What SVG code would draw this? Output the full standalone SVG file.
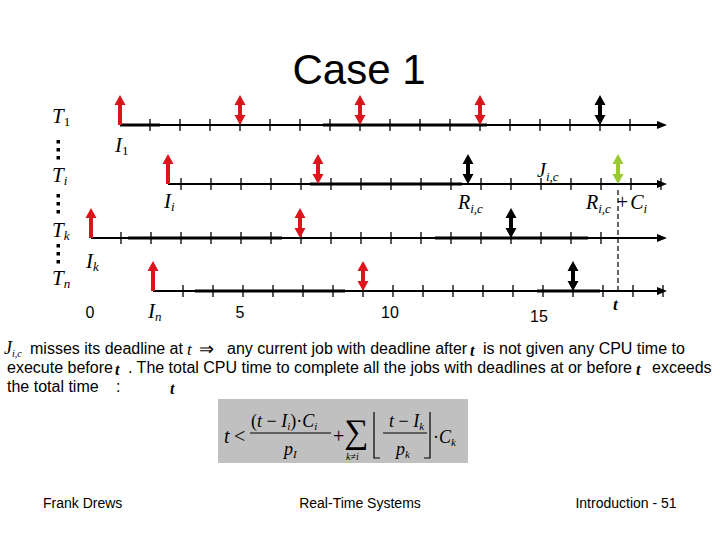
<svg xmlns="http://www.w3.org/2000/svg" width="720" height="540" viewBox="0 0 720 540">
<style>
.sans{font-family:"Liberation Sans",Arial,sans-serif;fill:#000}
.ser{font-family:"Liberation Serif","Times New Roman",serif;fill:#000}
.it{font-style:italic}
.tl{stroke:#000;stroke-width:2;fill:none}
.thk{stroke:#000;stroke-width:3;fill:none}
.tick{stroke:#000;stroke-width:1.3}
.red{fill:#dc141c}
.blk{fill:#000}
.grn{fill:#9ac832}
</style>
<defs>
<path id="up" d="M-2,0 V-20 H-5.5 L0,-30 L5.5,-20 H2 V0 Z"/>
<path id="dbl" d="M0,-30 L5.5,-20 H2 V-10 H5.5 L0,0 L-5.5,-10 H-2 V-20 H-5.5 Z"/>
<path id="end" d="M-10,-4 L0,0 L-10,4 Z"/>
<g id="ticks">
<path class="tick" d="M0,-6V6M30,-6V6M60,-6V6M90,-6V6M120,-6V6M150,-6V6M180,-6V6M210,-6V6M240,-6V6M270,-6V6M300,-6V6M330,-6V6M360,-6V6M390,-6V6M420,-6V6M450,-6V6M480,-6V6"/>
</g>
</defs>

<rect width="720" height="540" fill="#fff"/>

<text class="sans" x="359" y="84" font-size="42" text-anchor="middle">Case 1</text>

<!-- task labels -->
<g id="labels">
<text class="ser it" x="52" y="123" font-size="21">T<tspan class="ser" font-style="normal" font-size="13" dy="3">1</tspan></text>
<text class="ser it" x="52" y="182" font-size="21">T<tspan font-size="13" dy="3">i</tspan></text>
<text class="ser it" x="52" y="237" font-size="21">T<tspan font-size="13" dy="3">k</tspan></text>
<text class="ser it" x="52" y="285" font-size="21">T<tspan font-size="13" dy="3">n</tspan></text>
<g class="blk">
<rect x="56.5" y="140" width="3.5" height="3.5"/><rect x="56.5" y="148" width="3.5" height="3.5"/><rect x="56.5" y="156" width="3.5" height="3.5"/>
<rect x="56.5" y="194" width="3.5" height="3.5"/><rect x="56.5" y="202" width="3.5" height="3.5"/><rect x="56.5" y="210" width="3.5" height="3.5"/>
<rect x="56.5" y="244" width="3.5" height="3.5"/><rect x="56.5" y="252" width="3.5" height="3.5"/><rect x="56.5" y="260" width="3.5" height="3.5"/>
</g>
<text class="ser it" x="115" y="152" font-size="21">I<tspan font-style="normal" font-size="13" dy="3">1</tspan></text>
<text class="ser it" x="164" y="208" font-size="21">I<tspan font-size="13" dy="3">i</tspan></text>
<text class="ser it" x="86" y="268" font-size="21">I<tspan font-size="13" dy="3">k</tspan></text>
<text class="ser it" x="148" y="318" font-size="21">I<tspan font-size="13" dy="3">n</tspan></text>
<text class="sans" x="90" y="318" font-size="16" text-anchor="middle">0</text>
<text class="sans" x="240" y="318" font-size="16" text-anchor="middle">5</text>
<text class="sans" x="390" y="318" font-size="16" text-anchor="middle">10</text>
<text class="sans" x="539" y="322" font-size="16" text-anchor="middle">15</text>
<text class="ser it" x="537" y="177" font-size="20">J<tspan font-size="13" dy="4">i,c</tspan></text>
<text class="ser it" x="458" y="209" font-size="20">R<tspan font-size="13" dy="4">i,c</tspan></text>
<text class="ser it" x="586" y="209" font-size="20">R<tspan font-size="13" dy="4">i,c</tspan><tspan font-style="normal" font-size="20" dy="-4" dx="6">+</tspan><tspan dx="2">C</tspan><tspan font-size="13" dy="4">i</tspan></text>
<text class="ser it" x="613" y="310" font-size="17" font-weight="bold">t</text>
</g>

<!-- timeline T1 -->
<g id="T1">
<path class="tl" d="M120,125H660"/>
<path class="thk" d="M120,125H160M323,125H487"/>
<use href="#ticks" x="150" y="125"/>
<use href="#end" x="667" y="125"/>
<use href="#up" class="red" x="120" y="125"/>
<use href="#dbl" class="red" x="240" y="125"/>
<use href="#dbl" class="red" x="360" y="125"/>
<use href="#dbl" class="red" x="480" y="125"/>
<use href="#dbl" class="blk" x="600" y="125"/>
</g>

<!-- timeline Ti -->
<g id="Ti">
<path class="tl" d="M168,184H660"/>
<path class="thk" d="M310,184H462"/>
<use href="#ticks" x="181" y="184"/>
<use href="#end" x="667" y="184"/>
<use href="#up" class="red" x="168" y="184"/>
<use href="#dbl" class="red" x="318" y="184"/>
<use href="#dbl" class="blk" x="468" y="184"/>
<use href="#dbl" class="grn" x="618" y="184"/>
</g>

<!-- timeline Tk -->
<g id="Tk">
<path class="tl" d="M91,238H660"/>
<path class="thk" d="M128,238H282M435,238H588"/>
<use href="#ticks" x="121" y="238"/>
<use href="#end" x="667" y="238"/>
<use href="#up" class="red" x="91" y="238"/>
<use href="#dbl" class="red" x="300" y="238"/>
<use href="#dbl" class="blk" x="511" y="238"/>
</g>

<!-- timeline Tn -->
<g id="Tn">
<path class="tl" d="M153,291H660"/>
<path class="thk" d="M195,291H345M537,291H600"/>
<use href="#ticks" x="183" y="291"/>
<use href="#end" x="667" y="291"/>
<use href="#up" class="red" x="153" y="291"/>
<use href="#dbl" class="red" x="363" y="291"/>
<use href="#dbl" class="blk" x="573" y="291"/>
</g>

<g id="connectors">
<path d="M618,190V292" stroke="#000" stroke-width="1.2" stroke-dasharray="5,3" fill="none"/>
</g>

<!-- explanation text -->
<g id="text">
<text class="ser it" x="4" y="354" font-size="18">J<tspan font-size="10" dy="3">i,c</tspan></text>
<text class="sans" x="30" y="354" font-size="16">misses its deadline at</text>
<text class="ser it" x="187" y="355" font-size="17">t</text>
<text class="ser" x="199" y="355" font-size="18">⇒</text>
<text class="sans" x="227" y="354" font-size="16">any current job with deadline after</text>
<text class="ser it" x="470" y="356" font-size="16" font-weight="bold">t</text>
<text class="sans" x="483" y="354" font-size="16">is not given any CPU time to</text>
<text class="sans" x="7" y="373" font-size="16">execute before</text>
<text class="ser it" x="115" y="375" font-size="16" font-weight="bold">t</text>
<text class="sans" x="128" y="373" font-size="16">. The total CPU time to complete all the jobs with deadlines at or before</text>
<text class="ser it" x="636" y="375" font-size="16" font-weight="bold">t</text>
<text class="sans" x="652" y="373" font-size="16">exceeds</text>
<text class="sans" x="7" y="392" font-size="16">the total time</text>
<text class="sans" x="116" y="392" font-size="16">:</text>
<text class="ser it" x="170" y="394" font-size="16" font-weight="bold">t</text>
</g>

<!-- formula -->
<g id="formula">
<rect x="218" y="399" width="250" height="64" fill="#c0c0c0"/>
<text class="ser it" x="224" y="443" font-size="20">t</text>
<text class="ser" x="234" y="443" font-size="20">&lt;</text>
<text class="ser" x="251" y="427" font-size="18">(<tspan font-style="italic">t</tspan> − <tspan font-style="italic">I</tspan><tspan font-style="italic" font-size="11" dy="3">i</tspan><tspan dy="-3">)·</tspan><tspan font-style="italic">C</tspan><tspan font-style="italic" font-size="11" dy="3">i</tspan></text>
<path d="M250,433H331" stroke="#000" stroke-width="1.2"/>
<text class="ser it" x="284" y="455" font-size="18">p<tspan font-size="11" dy="3">I</tspan></text>
<text class="ser" x="333" y="443" font-size="20">+</text>
<text class="ser" x="344" y="443" font-size="34">∑</text>
<text class="ser it" x="346" y="460" font-size="10">k≠i</text>
<path d="M374,412V458H380M430,412V458H424" stroke="#000" stroke-width="1.2" fill="none"/>
<text class="ser it" x="389" y="427" font-size="18">t <tspan font-style="normal">−</tspan> I<tspan font-size="11" dy="3">k</tspan></text>
<path d="M383,433H427" stroke="#000" stroke-width="1.2"/>
<text class="ser it" x="396" y="455" font-size="18">p<tspan font-size="11" dy="3">k</tspan></text>
<text class="ser" x="433" y="443" font-size="18">·<tspan font-style="italic">C</tspan><tspan font-style="italic" font-size="11" dy="3">k</tspan></text>
</g>

<g id="footer">
<text class="sans" x="43" y="508" font-size="14">Frank Drews</text>
<text class="sans" x="360" y="508" font-size="14" text-anchor="middle">Real-Time Systems</text>
<text class="sans" x="626" y="508" font-size="14" text-anchor="middle">Introduction - 51</text>
</g>
</svg>
